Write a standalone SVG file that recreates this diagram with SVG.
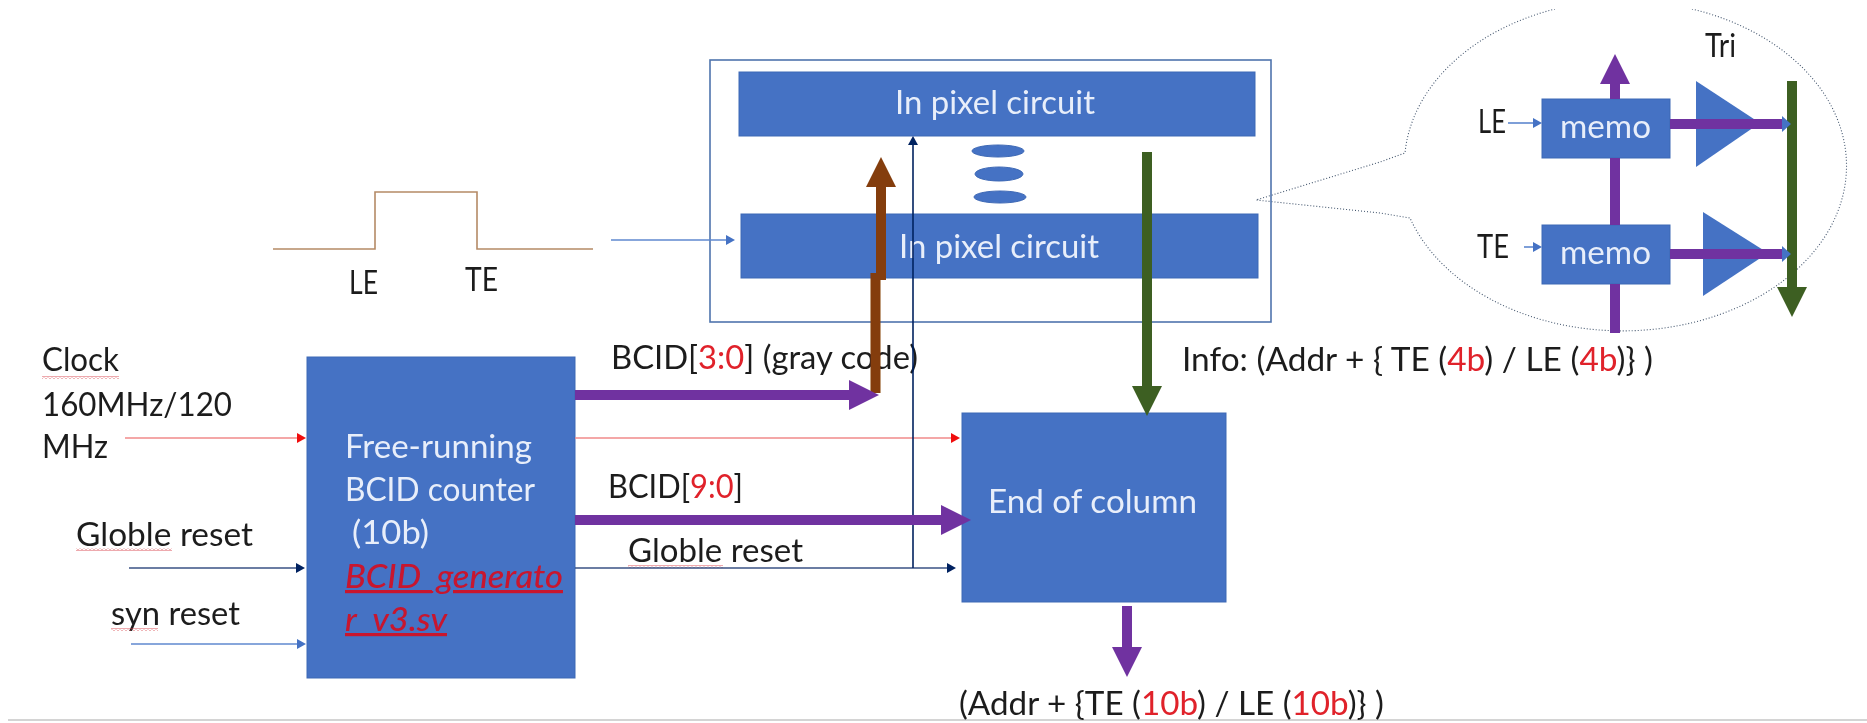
<svg xmlns="http://www.w3.org/2000/svg" width="1867" height="723" viewBox="0 0 1867 723">
<style>
text{font-family:Lato,"Open Sans","Liberation Sans",sans-serif;font-size:32px;fill:#1c1c1c}
.w{fill:#e8eefa}
.r{fill:#e0202a}
.bl{fill:#4472c4;stroke:#3f69b5;stroke-width:1}
.ital{fill:#c8142e;font-style:italic;font-weight:500;text-decoration:underline}
.thick{fill:none;stroke-width:10}
.thin{fill:none;stroke-width:1.6}
.p{stroke:#7030a0}.g{stroke:#3c5e22}.b{stroke:#843c0c}
.tr{stroke:#f08a8a}.tn{stroke:#3a5385}.tb{stroke:#5f88cf}
.sq{fill:url(#squig)}
</style>
<defs>
<filter id="soft" x="0" y="0" width="1" height="1" filterUnits="objectBoundingBox"><feGaussianBlur stdDeviation="0.6"/></filter>
<pattern id="squig" width="4" height="3" patternUnits="userSpaceOnUse"><path d="M0,2.5 L2,0.5 L4,2.5" fill="none" stroke="#d8404a" stroke-width="0.9"/></pattern>
<marker id="hp" markerUnits="userSpaceOnUse" markerWidth="30" markerHeight="30" refX="0" refY="15" orient="auto" viewBox="0 0 30 30"><path d="M0,0L30,15L0,30Z" fill="#7030a0"/></marker>
<marker id="hg" markerUnits="userSpaceOnUse" markerWidth="30" markerHeight="30" refX="0" refY="15" orient="auto" viewBox="0 0 30 30"><path d="M0,0L30,15L0,30Z" fill="#3c5e22"/></marker>
<marker id="hb" markerUnits="userSpaceOnUse" markerWidth="30" markerHeight="30" refX="0" refY="15" orient="auto" viewBox="0 0 30 30"><path d="M0,0L30,15L0,30Z" fill="#843c0c"/></marker>
<marker id="sr" markerUnits="userSpaceOnUse" markerWidth="9" markerHeight="12" refX="0" refY="6" orient="auto" viewBox="0 0 9 12"><path d="M0,1L9,6L0,11Z" fill="#f01010"/></marker>
<marker id="sn" markerUnits="userSpaceOnUse" markerWidth="9" markerHeight="12" refX="0" refY="6" orient="auto" viewBox="0 0 9 12"><path d="M0,1L9,6L0,11Z" fill="#002060"/></marker>
<marker id="sb" markerUnits="userSpaceOnUse" markerWidth="9" markerHeight="12" refX="0" refY="6" orient="auto" viewBox="0 0 9 12"><path d="M0,1L9,6L0,11Z" fill="#4472c4"/></marker>
<marker id="spb" markerUnits="userSpaceOnUse" markerWidth="9" markerHeight="16" refX="0" refY="8" orient="auto" viewBox="0 0 9 16"><path d="M0,0L9,8L0,16Z" fill="#4472c4"/></marker>
</defs>
<rect width="1867" height="723" fill="#fff"/>
<g filter="url(#soft)">
<rect id="footer-rule" x="8" y="719" width="1859" height="2" fill="#d4d4d4"/>

<g id="callout"><path d="M1692,9 A224,165 0 1 1 1410,218 L1380,213 L1256,200 L1380,162 L1405,153 A224,165 0 0 1 1555,9" fill="none" stroke="#44566e" stroke-width="1.1" stroke-dasharray="1 2"/></g>

<g id="pixel-frame"><rect x="710" y="60" width="561" height="262" fill="none" stroke="#4f74ad" stroke-width="1.6"/></g>

<g id="pixel-top"><rect class="bl" x="739" y="72" width="516" height="64"/><text class="w" x="895" y="114" textLength="200" lengthAdjust="spacingAndGlyphs">In pixel circuit</text></g>
<g id="dots"><ellipse class="bl" cx="998" cy="151" rx="26" ry="6"/><ellipse class="bl" cx="999" cy="174" rx="24" ry="7"/><ellipse class="bl" cx="1000" cy="197" rx="26" ry="6"/></g>
<g id="pixel-bottom"><rect class="bl" x="741" y="214" width="517" height="64"/><text class="w" x="899" y="258" textLength="200" lengthAdjust="spacingAndGlyphs">In pixel circuit</text></g>

<g id="counter"><rect class="bl" x="307" y="357" width="268" height="321"/>
<text class="w" x="345" y="458" textLength="187" lengthAdjust="spacingAndGlyphs">Free-running</text>
<text class="w" x="345" y="501" textLength="190" lengthAdjust="spacingAndGlyphs">BCID counter</text>
<text class="w" x="352" y="544" textLength="77" lengthAdjust="spacingAndGlyphs">(10b)</text>
<text class="ital" x="345" y="588" textLength="218" lengthAdjust="spacingAndGlyphs">BCID_generato</text>
<text class="ital" x="345" y="631" textLength="102" lengthAdjust="spacingAndGlyphs">r_v3.sv</text></g>

<g id="eoc"><rect class="bl" x="962" y="413" width="264" height="189"/><text class="w" x="988" y="513" textLength="209" lengthAdjust="spacingAndGlyphs">End of column</text></g>

<g id="memo-le"><rect class="bl" x="1542" y="99" width="128" height="59"/><text class="w" x="1560" y="138" textLength="91" lengthAdjust="spacingAndGlyphs">memo</text></g>
<g id="memo-te"><rect class="bl" x="1542" y="225" width="128" height="59"/><text class="w" x="1560" y="264" textLength="91" lengthAdjust="spacingAndGlyphs">memo</text></g>
<g id="tri-1"><path d="M1696,81L1760,123L1696,167Z" fill="#4472c4"/></g>
<g id="tri-2"><path d="M1703,212L1768,253L1703,296Z" fill="#4472c4"/></g>

<g id="labels">
<text x="42" y="371" textLength="77" lengthAdjust="spacingAndGlyphs">Clock</text>
<text x="42" y="416" textLength="190" lengthAdjust="spacingAndGlyphs">160MHz/120</text>
<text x="42" y="458" textLength="66" lengthAdjust="spacingAndGlyphs">MHz</text>
<text x="76" y="546" textLength="177" lengthAdjust="spacingAndGlyphs">Globle reset</text>
<text x="111" y="625" textLength="129" lengthAdjust="spacingAndGlyphs">syn reset</text>
<text x="349" y="294" textLength="29" lengthAdjust="spacingAndGlyphs">LE</text>
<text x="465" y="291" textLength="33" lengthAdjust="spacingAndGlyphs">TE</text>
<text x="611" y="369" textLength="307" lengthAdjust="spacingAndGlyphs">BCID[<tspan class="r">3:0</tspan>] (gray code)</text>
<text x="608" y="498" textLength="135" lengthAdjust="spacingAndGlyphs">BCID[<tspan class="r">9:0</tspan>]</text>
<text x="628" y="562" textLength="175" lengthAdjust="spacingAndGlyphs">Globle reset</text>
<text x="1182" y="371" textLength="471" lengthAdjust="spacingAndGlyphs">Info: (Addr + { TE (<tspan class="r">4b</tspan>) / LE (<tspan class="r">4b</tspan>)} )</text>
<text x="959" y="715" textLength="425" lengthAdjust="spacingAndGlyphs">(Addr + {TE (<tspan class="r">10b</tspan>) / LE (<tspan class="r">10b</tspan>)} )</text>
<text x="1478" y="133" textLength="28" lengthAdjust="spacingAndGlyphs">LE</text>
<text x="1477" y="258" textLength="32" lengthAdjust="spacingAndGlyphs">TE</text>
<text x="1705" y="57" textLength="31" lengthAdjust="spacingAndGlyphs">Tri</text>
<rect class="sq" x="42" y="376" width="77" height="3"/>
<rect class="sq" x="76" y="548" width="96" height="3"/>
<rect class="sq" x="111" y="628" width="47" height="3"/>
<rect class="sq" x="628" y="565" width="95" height="3"/>
</g>

<g id="connectors">
<path class="thin" d="M273,249H375V192H477V249H593" stroke="#b58a66"/>
<path class="thin tb" d="M611,240H726" marker-end="url(#sb)"/>
<path class="thin tr" d="M125,438H297" marker-end="url(#sr)"/>
<path class="thin tr" d="M575,438H951" marker-end="url(#sr)"/>
<path class="thin tn" d="M129,568H296" marker-end="url(#sn)"/>
<path class="thin tn" d="M575,568H947" marker-end="url(#sn)"/>
<path class="thin tb" d="M131,644H297" marker-end="url(#sb)"/>
<path class="thick b" d="M875.5,393V273"/>
<path class="thick b" d="M881,280V187" marker-end="url(#hb)"/>
<path class="thick p" d="M575,395H849" marker-end="url(#hp)"/>
<path class="thin" stroke="#002060" d="M913,568V145" marker-end="url(#sn)"/>
<path class="thick p" d="M575,520H941" marker-end="url(#hp)"/>
<path class="thick g" d="M1147,152V386" marker-end="url(#hg)"/>
<path class="thick p" d="M1127,606V647" marker-end="url(#hp)"/>
<path class="thick p" d="M1615,333V284M1615,225V158"/>
<path class="thick p" d="M1615,99V84" marker-end="url(#hp)"/>
<path class="thin tb" d="M1508,123H1533" marker-end="url(#sb)"/>
<path class="thin tb" d="M1524,247H1533" marker-end="url(#sb)"/>
<path class="thick g" d="M1792,81V287" marker-end="url(#hg)"/>
<path class="thick p" d="M1670,124H1782" marker-end="url(#spb)"/>
<path class="thick p" d="M1670,254H1782" marker-end="url(#spb)"/>
</g>
</g>
</svg>
